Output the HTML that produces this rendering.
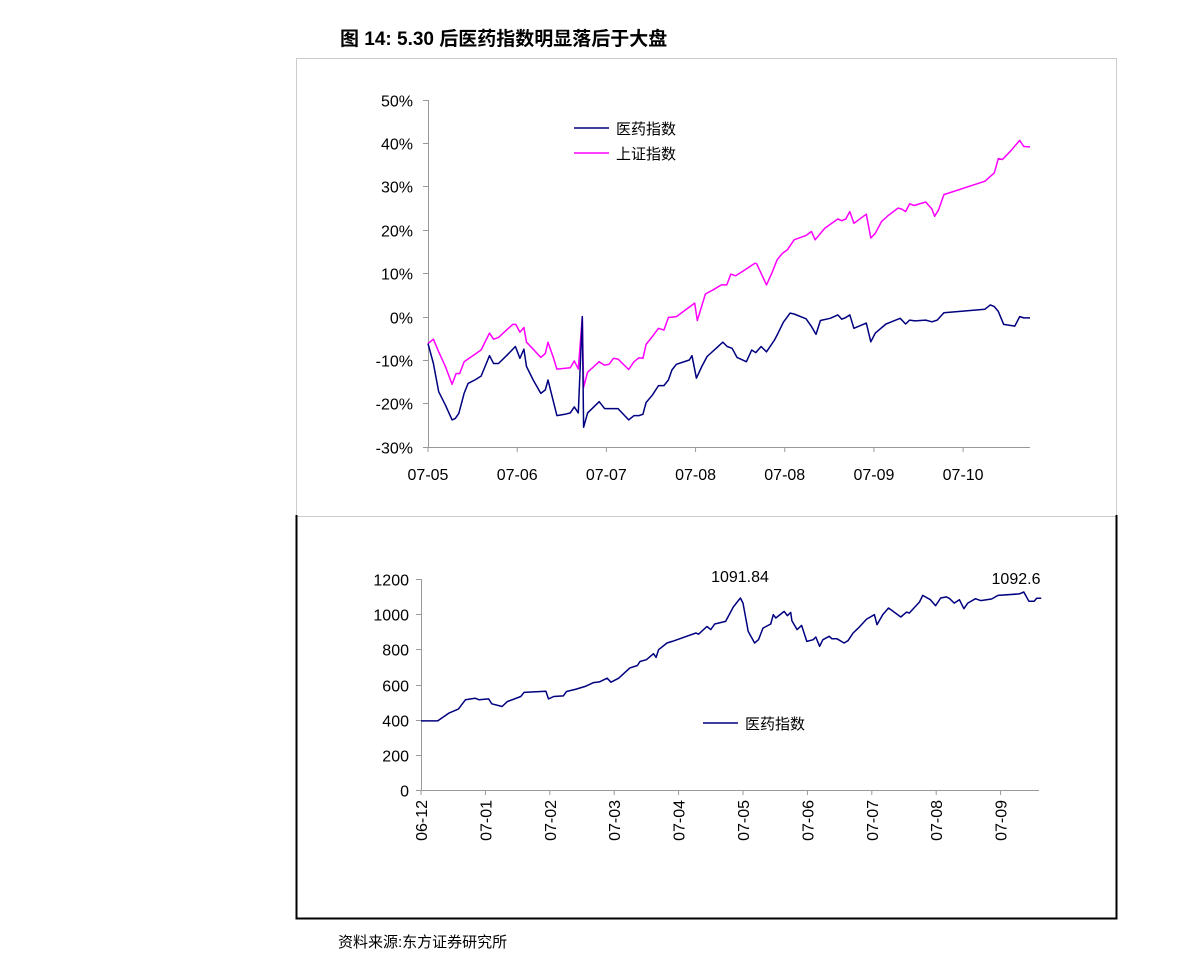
<!DOCTYPE html>
<html><head><meta charset="utf-8"><style>
body{margin:0;background:#fff;overflow:hidden;}
svg text{font-family:"Liberation Sans","Noto Sans CJK SC",sans-serif;}
</style></head><body>
<svg id="c" width="1191" height="972" viewBox="0 0 1191 972" xmlns="http://www.w3.org/2000/svg">
<text x="340" y="45" font-size="19" font-weight="bold">图 14:  5.30 后医药指数明显落后于大盘</text>
<rect x="296.5" y="58.5" width="820" height="458" fill="none" stroke="#ccc"/>
<path d="M296.5 515 V918.5 H1116.5 V515" fill="none" stroke="#000" stroke-width="2"/>
<g id="top"></g>
<g id="bot"></g>
<text x="338" y="947" font-size="15">资料来源:东方证券研究所</text>
</svg>
<script>
const topTicks=[50,40,30,20,10,0,-10,-20,-30];
const topXLabels=["07-05","07-06","07-07","07-08","07-08","07-09","07-10"];
const medDay=[0,1.2,2.4,3.9,5.4,6.1,6.9,8.1,9.0,10.5,11.9,13.8,14.7,15.8,17.6,19.6,20.6,21.5,22.1,23.6,25.3,26.3,26.9,28.9,30.7,31.9,32.8,33.7,34.6,34.9,35.8,38.4,39.6,42.6,45.0,46.2,47.3,48.2,48.9,50.3,51.7,52.9,53.9,54.7,55.7,58.6,59.2,60.2,61.4,62.6,64.6,66.1,67.1,68.2,69.3,71.4,72.6,73.5,74.7,75.9,77.7,78.5,79.7,81.2,82.1,84.8,86.0,87.0,88.0,90.2,91.9,92.8,93.7,94.6,95.5,98.3,99.3,100.3,102.7,105.9,107.1,108.0,109.2,111.6,113.0,114.2,115.7,124.9,126.1,127.0,127.9,129.1,131.6,132.7,133.6,135];
const medVal=[-6.2,-10.8,-17.3,-20.4,-23.8,-23.5,-22.3,-17.7,-15.4,-14.6,-13.7,-9.0,-10.8,-10.8,-9.0,-6.9,-9.6,-7.5,-11.5,-14.6,-17.7,-16.9,-14.6,-22.8,-22.5,-22.2,-20.8,-22.2,0,-25.5,-22.2,-19.6,-21.2,-21.2,-23.8,-22.8,-22.8,-22.5,-19.8,-18.1,-15.9,-15.9,-14.6,-12.3,-11.0,-10.0,-9.0,-14.2,-11.5,-9.2,-7.3,-5.9,-6.9,-7.3,-9.4,-10.4,-7.7,-8.3,-6.9,-8.1,-5.4,-3.8,-1.3,0.8,0.6,-0.5,-2.3,-4.1,-0.9,-0.4,0.4,-0.6,-0.2,0.4,-2.7,-1.5,-5.8,-3.8,-1.7,-0.4,-1.7,-0.8,-1.0,-0.8,-1.2,-0.8,0.9,1.7,2.7,2.3,1.2,-1.8,-2.2,0,-0.3,-0.3];
const shDay=[0,1.2,2.4,3.9,5.4,6.3,7.1,8.1,11.9,13.8,14.7,15.8,17.6,19.0,19.7,20.6,21.5,22.1,23.6,25.3,26.3,26.9,28.1,28.9,31.9,32.8,33.7,34.6,34.9,35.8,38.4,39.6,40.6,41.6,42.6,45.0,46.2,47.3,48.2,48.9,50.3,51.7,52.9,53.9,55.7,59.8,60.4,62.2,64.0,65.8,67.0,67.9,69.0,71.1,73.3,73.7,75.9,77.1,78.3,79.5,80.6,82.1,84.8,86.0,86.8,89.0,91.9,92.8,93.7,94.6,95.5,98.3,99.3,100.3,101.7,103.2,105.4,106.2,107.1,108.0,109.0,111.6,113.0,113.6,114.5,115.7,124.9,126.1,127.0,127.9,128.8,130.6,132.7,133.6,135];
const shVal=[-6.2,-5.2,-8.1,-11.5,-15.6,-13.1,-13.1,-10.4,-7.7,-3.8,-5.2,-4.8,-3.1,-1.8,-1.8,-3.6,-2.5,-5.9,-7.5,-9.4,-8.5,-5.9,-9.4,-12.1,-11.8,-10.2,-12.1,0,-16.3,-12.8,-10.4,-11.2,-11.0,-9.6,-9.8,-12.2,-10.4,-9.5,-9.6,-6.4,-4.6,-2.7,-3.1,-0.2,0,3.1,-0.9,5.2,6.2,7.3,7.3,9.8,9.4,10.8,12.3,12.2,7.3,10.0,13.1,14.6,15.4,17.7,18.7,19.6,17.7,20.4,22.5,22.1,22.5,24.2,21.5,23.6,18.1,19.2,21.9,23.3,25.0,24.8,24.2,26.0,25.6,26.4,24.8,23.1,24.6,28.1,31.2,32.3,33.1,36.4,36.2,38.1,40.6,39.2,39.1];
const botTicks=[1200,1000,800,600,400,200,0];
const botXLabels=["06-12","07-01","07-02","07-03","07-04","07-05","07-06","07-07","07-08","07-09"];
const botMonth=[0,0.26,0.43,0.58,0.69,0.84,0.9,1.05,1.1,1.26,1.34,1.55,1.6,1.94,1.98,2.06,2.21,2.26,2.41,2.55,2.68,2.77,2.89,2.95,3.07,3.24,3.36,3.40,3.50,3.61,3.65,3.69,3.82,3.90,4.27,4.31,4.44,4.5,4.56,4.73,4.85,4.96,5.0,5.08,5.18,5.24,5.31,5.43,5.47,5.51,5.64,5.69,5.74,5.76,5.84,5.91,5.99,6.09,6.13,6.19,6.24,6.34,6.38,6.46,6.57,6.63,6.71,6.79,6.92,7.04,7.08,7.17,7.26,7.45,7.54,7.58,7.74,7.79,7.91,7.99,8.07,8.16,8.21,8.28,8.36,8.43,8.49,8.61,8.69,8.86,8.96,9.29,9.36,9.44,9.52,9.56,9.63];
const botVal=[393,393,437,460,513,522,513,518,490,475,503,532,555,562,518,532,535,560,574,589,611,615,636,613,636,693,708,731,741,775,754,798,836,845,893,886,930,912,944,959,1041,1092,1063,902,836,855,921,944,997,978,1016,991,1010,963,912,936,845,855,870,817,855,874,860,860,836,849,893,921,972,997,940,997,1035,984,1012,1006,1069,1107,1082,1048,1092,1098,1088,1063,1082,1031,1063,1088,1077,1086,1107,1115,1126,1073,1073,1090,1090];
const annotations=["1091.84","1092.6"];

const NS="http://www.w3.org/2000/svg";
function mk(parent,tag,attrs,text){const e=document.createElementNS(NS,tag);for(const k in attrs)e.setAttribute(k,attrs[k]);if(text!==undefined)e.textContent=text;parent.appendChild(e);return e;}

const T=document.getElementById('top');
const tx=d=>428+d*(1030-428)/135;
const ty=v=>316.6-v*4.34;
let ax=mk(T,'path',{d:'M428.5 100 V447.5 H1030',stroke:'#999',fill:'none'});


topTicks.forEach(v=>{
  const y=Math.round(ty(v))+0.5;
  const l=mk(T,'line',{x1:423,x2:428,y1:y,y2:y,stroke:'#999'});
  
  
  const t=mk(T,'text',{x:413,y:y+6,'font-size':16,'text-anchor':'end'},v+'%');
  
  
});
topXLabels.forEach((s,i)=>{
  const x=tx(i*20);
  const l=mk(T,'line',{x1:x,x2:x,y1:447,y2:452,stroke:'#999'});
  
  
  const t=mk(T,'text',{x:x,y:480,'font-size':16,'text-anchor':'middle'},s);
  
  
});
function line(g,xs,ys,fx,fy,color,name){
  const p=mk(g,'polyline',{points:xs.map((d,i)=>fx(d).toFixed(1)+','+fy(ys[i]).toFixed(1)).join(' '),fill:'none',stroke:color,'stroke-width':1.5,'stroke-linejoin':'round'});
  
  
}
line(T,shDay,shVal,tx,ty,'#ff00ff','shanghai-index-line');
line(T,medDay,medVal,tx,ty,'#000080','pharma-index-line');
[['#000080','医药指数',128],['#ff00ff','上证指数',153]].forEach(([c,s,y])=>{
  const l=mk(T,'line',{x1:574,x2:609,y1:y,y2:y,stroke:c,'stroke-width':1.5});
  
  
  const t=mk(T,'text',{x:616,y:y+6,'font-size':15},s);
  
  
});

const B=document.getElementById('bot');
const bx=m=>421+m*64.4;
const by=v=>790-v*(211/1200);
let ax2=mk(B,'path',{d:'M421.5 579 V790.5 H1039',stroke:'#999',fill:'none'});


botTicks.forEach(v=>{
  const y=Math.round(by(v))+0.5;
  const l=mk(B,'line',{x1:416,x2:421,y1:y,y2:y,stroke:'#999'});
  
  
  const t=mk(B,'text',{x:409,y:y+6,'font-size':16,'text-anchor':'end'},v);
  
  
});
botXLabels.forEach((s,i)=>{
  const x=bx(i);
  const l=mk(B,'line',{x1:x,x2:x,y1:790,y2:795,stroke:'#999'});
  
  
  const t=mk(B,'text',{x:0,y:0,'font-size':16,'text-anchor':'end',transform:`translate(${x+6},800) rotate(-90)`},s);
  
  
});
line(B,botMonth,botVal,bx,by,'#000080','pharma-index-level-line');
const a1=mk(B,'text',{x:740,y:582,'font-size':16,'text-anchor':'middle'},annotations[0]);


const a2=mk(B,'text',{x:1016,y:584,'font-size':16,'text-anchor':'middle'},annotations[1]);


const ls=mk(B,'line',{x1:703,x2:738,y1:723,y2:723,stroke:'#000080','stroke-width':1.5});


const lt=mk(B,'text',{x:745,y:729,'font-size':15},'医药指数');


</script>
</body></html>
